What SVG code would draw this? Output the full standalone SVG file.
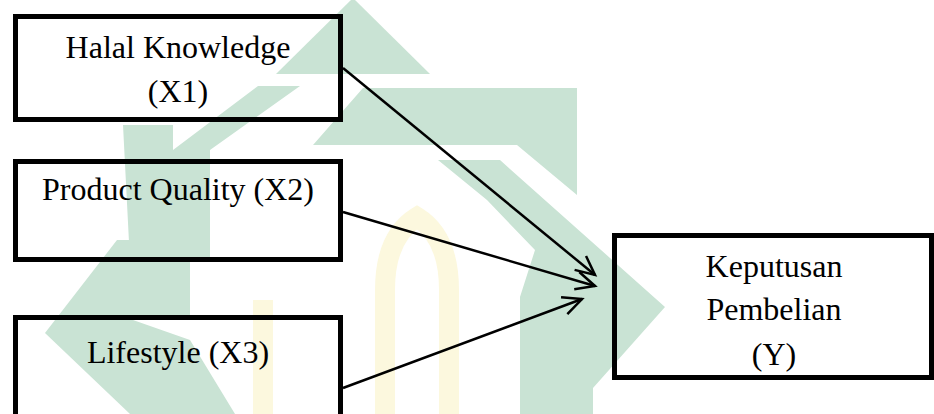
<svg xmlns="http://www.w3.org/2000/svg" width="934" height="414" viewBox="0 0 934 414">
<style>
.box{fill:none;stroke:#000;stroke-width:5}
.lbl{font-family:"Liberation Serif","Times New Roman",serif;font-size:32px;fill:#000;text-anchor:middle}
.wm{fill:#c9e3d4}
.wy{fill:none;stroke:#fcf8de;stroke-width:20}
.conn{stroke:#000;stroke-width:2.5;fill:none}
</style>
<defs>
<marker id="arr" markerUnits="userSpaceOnUse" markerWidth="40" markerHeight="40" viewBox="-25 -20 30 40" refX="0" refY="0" orient="auto" overflow="visible">
<path d="M-19,-9 L0,0 L-19,9" fill="none" stroke="#000" stroke-width="2.5"/>
</marker>
</defs>
<rect width="934" height="414" fill="#fff"/>
<g id="watermark">
<polygon class="wm" points="353,-2 430,74 276,74"/>
<polygon class="wm" points="363,88 577,88 577,195 517,145 313,145"/>
<polygon class="wm" points="438,160 500,160 665,307 593,388 593,414 520,414 520,297 535,250 487,200"/>
<polygon class="wm" points="258,86 300,86 210,150 210,260 190,260 190,320 133,320 123,125 173,125 173,150"/>
<polygon class="wm" points="117,240 133,240 133,320 190,340 235,414 130,414 45,333"/>
<path class="wy" d="M385,414 L385,290 Q385,237 417,217 Q449,237 449,290 L449,414"/>
<path class="wy" d="M263,414 L263,300"/>
</g>
<g id="connectors">
<line class="conn" x1="343" y1="68" x2="595" y2="275" marker-end="url(#arr)"/>
<line class="conn" x1="343" y1="212" x2="595" y2="286" marker-end="url(#arr)"/>
<line class="conn" x1="343" y1="388" x2="582" y2="299" marker-end="url(#arr)"/>
</g>
<g id="x1">
<rect class="box" x="15.5" y="16.5" width="325" height="103"/>
<text class="lbl" x="178" y="58">Halal Knowledge</text>
<text class="lbl" x="178" y="102">(X1)</text>
</g>
<g id="x2">
<rect class="box" x="15.5" y="161.5" width="325" height="98"/>
<text class="lbl" x="178" y="200">Product Quality (X2)</text>
</g>
<g id="x3">
<rect class="box" x="15.5" y="317.5" width="325" height="110"/>
<text class="lbl" x="178" y="363">Lifestyle (X3)</text>
</g>
<g id="y">
<rect class="box" x="614.5" y="235.5" width="317" height="142"/>
<text class="lbl" x="774" y="277">Keputusan</text>
<text class="lbl" x="774" y="320">Pembelian</text>
<text class="lbl" x="774" y="365">(Y)</text>
</g>
</svg>
